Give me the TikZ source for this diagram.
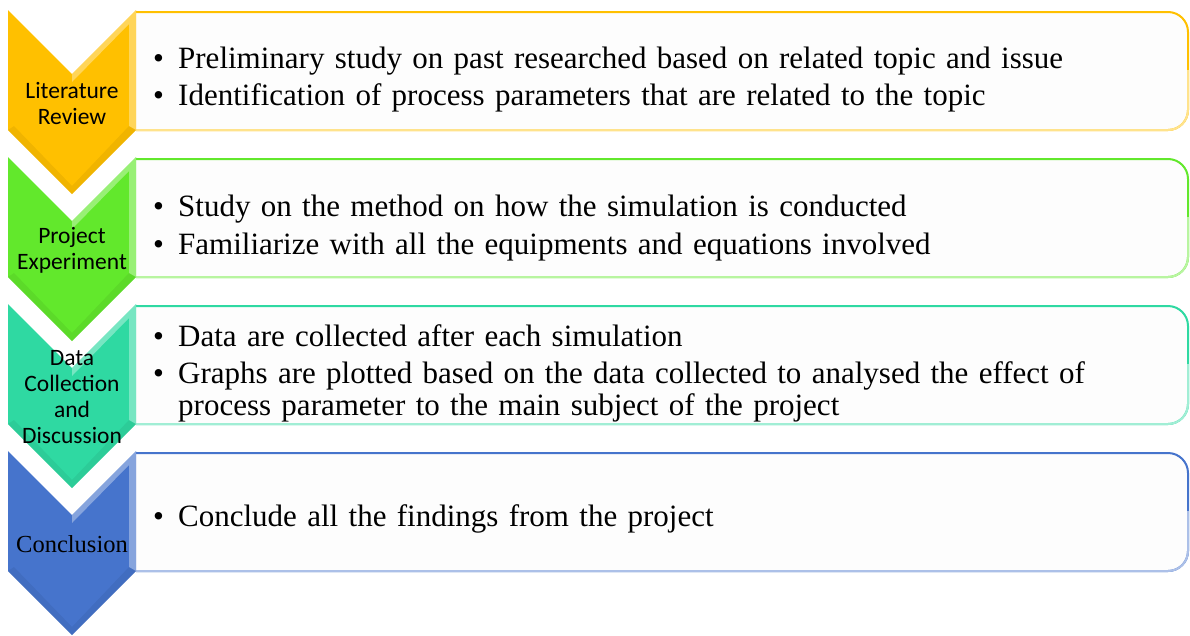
\documentclass[tikz,border=0pt]{standalone}
\usepackage{fontspec}
\setmainfont{Liberation Serif}
\newfontfamily\calib{Carlito}
\definecolor{cyel}{HTML}{FFC000}
\definecolor{cgrn}{HTML}{62E82C}
\definecolor{cteal}{HTML}{2FD9A2}
\definecolor{cblu}{HTML}{4674CC}
\definecolor{boxfill}{HTML}{FDFDFD}
\newcommand{\bitem}[1]{\par\noindent\makebox[25pt][l]{\textbullet}\parbox[t]{985pt}{\raggedright #1}}
\tikzset{
  chev/.style={fill=#1, draw=none},
  hilite/.style={fill=white, fill opacity=0.35, draw=none},
  shade/.style={fill=black, fill opacity=0.06, draw=none},
  tbox/.style={draw=#1, line width=2pt, fill=boxfill},
  lowedge/.style={draw=#1!45, line width=2pt},
  lab/.style={font=\calib\fontsize{23.5}{26}\selectfont, align=center, text=black, inner sep=0pt},
  btxt/.style={anchor=west, text width=1010pt, font=\fontsize{31}{32}\selectfont, align=left, inner sep=0pt},
}
\newcommand{\stage}[4]{% #1 top y, #2 colour, #3 label, #4 name
  \filldraw[tbox=#2] (136,#1+2) [rounded corners=20pt] -- (1188,#1+2) -- (1188,#1+120) -- (136,#1+120);
  \draw[lowedge=#2, rounded corners=20pt] (1188,#1+60) -- (1188,#1+120) -- (136,#1+120);
  \fill[chev=#2] (8,#1) -- (72,#1+64) -- (136,#1) -- (136,#1+120) -- (72,#1+184) -- (8,#1+120) -- cycle;
  \fill[hilite] (72,#1+64) -- (136,#1) -- (136,#1+120) -- (129,#1+116) -- (129,#1+14) -- (72,#1+72) -- cycle;
  \fill[shade] (8,#1+120) -- (72,#1+184) -- (136,#1+120) -- (129,#1+116) -- (72,#1+176) -- (14,#1+116) -- cycle;
  \node[lab] (#4) at (72,#1+93) {#3};
}
\begin{document}
\begin{tikzpicture}[x=1pt,y=-1pt]
\useasboundingbox (0,0) rectangle (1190,635);
\fill[white] (0,0) rectangle (1190,635);
\stage{10}{cyel}{Literature\\Review}{lit}
\stage{157}{cgrn}{Project\\Experiment}{proj}
\stage{304}{cteal}{Data\\Collection\\and\\Discussion}{data}
\stage{451}{cblu}{\rmfamily\fontsize{24.5}{26}\selectfont Conclusion}{conc}
\node[btxt] (t1) at (153,72) {\setlength{\parskip}{5pt}%
  \bitem{Preliminary study on past researched based on related topic and issue}
  \bitem{Identification of process parameters that are related to the topic}};
\node[btxt] (t2) at (153,220) {\setlength{\parskip}{6pt}%
  \bitem{Study on the method on how the simulation is conducted}
  \bitem{Familiarize with all the equipments and equations involved}};
\node[btxt] (t3) at (153,366) {\setlength{\parskip}{5pt}%
  \bitem{Data are collected after each simulation}
  \bitem{Graphs are plotted based on the data collected to analysed the effect of\newline process parameter to the main subject of the project}};
\node[btxt] (t4) at (153,514) {\bitem{Conclude all the findings from the project}};
\end{tikzpicture}
\end{document}
